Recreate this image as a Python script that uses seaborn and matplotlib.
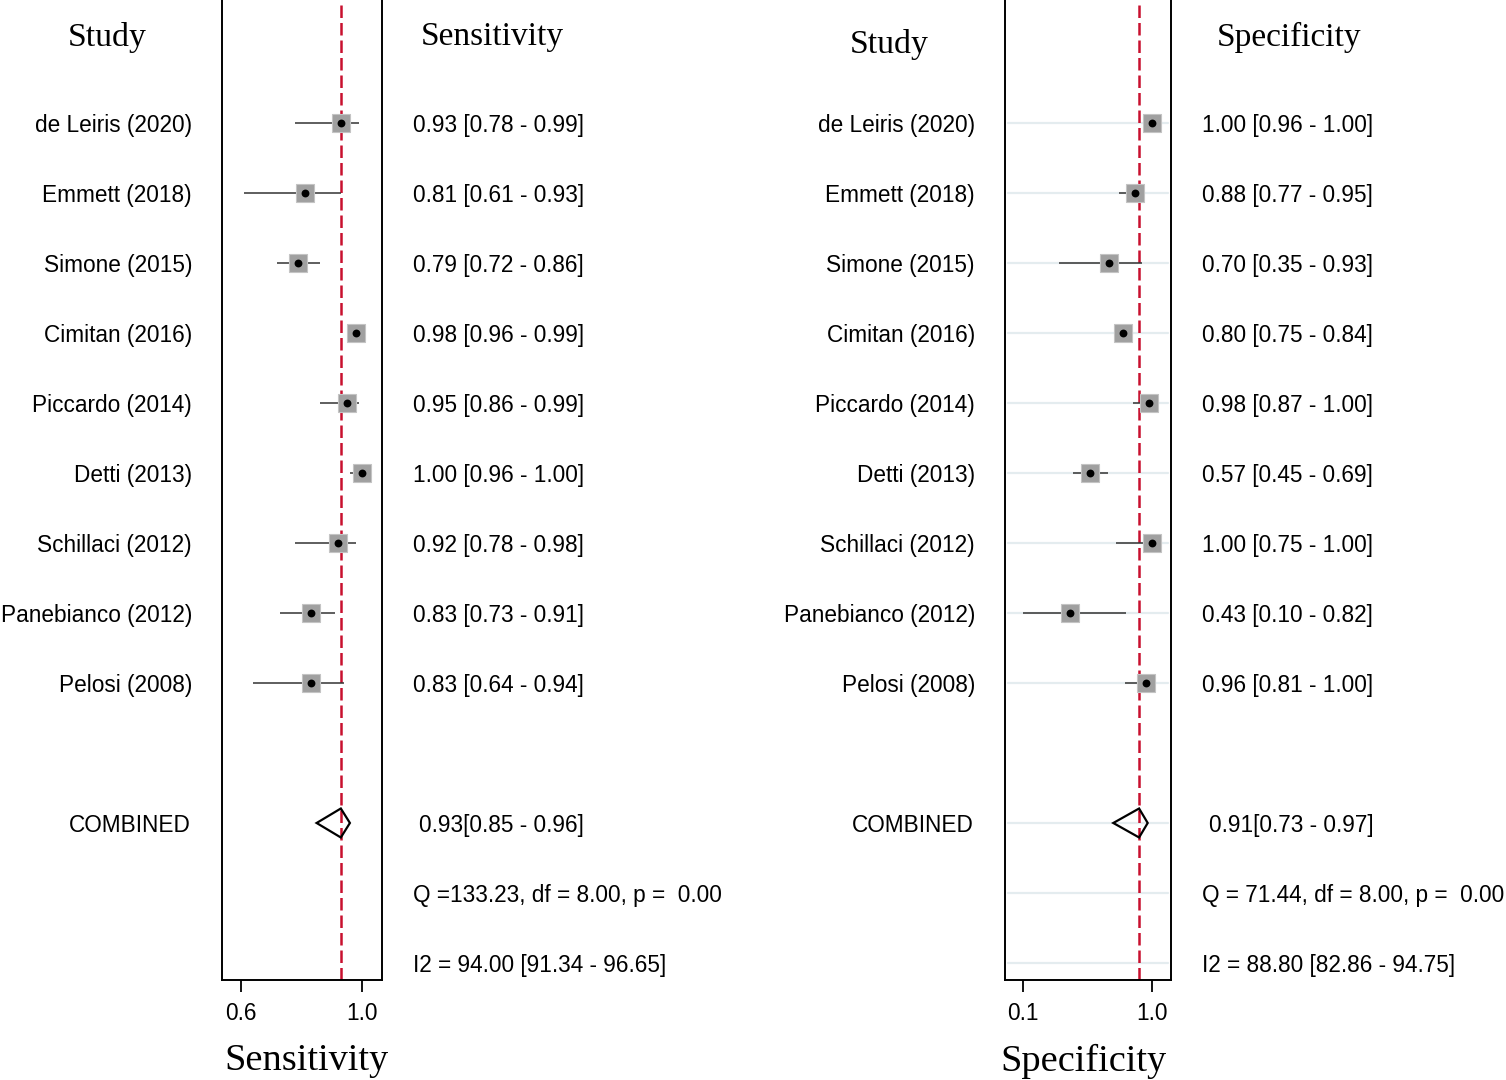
import numpy as np
import pandas as pd
import matplotlib
matplotlib.use("Agg")
import matplotlib.pyplot as plt
import matplotlib.transforms as mtransforms
from matplotlib.patches import Polygon
import seaborn as sns

# ---------------- data ----------------
studies = ["de Leiris (2020)", "Emmett (2018)", "Simone (2015)", "Cimitan (2016)",
           "Piccardo (2014)", "Detti (2013)", "Schillaci (2012)", "Panebianco (2012)",
           "Pelosi (2008)"]
sens = [0.93, 0.81, 0.79, 0.98, 0.95, 1.00, 0.92, 0.83, 0.83]
sens_lo = [0.78, 0.61, 0.72, 0.96, 0.86, 0.96, 0.78, 0.73, 0.64]
sens_hi = [0.99, 0.93, 0.86, 0.99, 0.99, 1.00, 0.98, 0.91, 0.94]
spec = [1.00, 0.88, 0.70, 0.80, 0.98, 0.57, 1.00, 0.43, 0.96]
spec_lo = [0.96, 0.77, 0.35, 0.75, 0.87, 0.45, 0.75, 0.10, 0.81]
spec_hi = [1.00, 0.95, 0.93, 0.84, 1.00, 0.69, 1.00, 0.82, 1.00]
sens_comb = [0.93, 0.85, 0.96]
spec_comb = [0.91, 0.73, 0.97]
sens_q = "Q =133.23, df = 8.00, p =  0.00"
sens_i2 = "I2 = 94.00 [91.34 - 96.65]"
spec_q = "Q = 71.44, df = 8.00, p =  0.00"
spec_i2 = "I2 = 88.80 [82.86 - 94.75]"
sens_ticks = [0.6, 1.0]
sens_ticklabels = ["0.6", "1.0"]
spec_ticks = [0.1, 1.0]
spec_ticklabels = ["0.1", "1.0"]

# ---------------- style ----------------
sns.set_style("white")
SANS = ["Liberation Sans", "DejaVu Sans"]
SERIF = ["Liberation Serif", "DejaVu Serif"]
plt.rcParams["font.family"] = SANS
plt.rcParams["text.color"] = "black"
plt.rcParams["xtick.color"] = "black"
plt.rcParams["xtick.labelcolor"] = "black"

W, H = 1506, 1080
fig = plt.figure(figsize=(W / 100, H / 100), dpi=100)

ROWS = list(range(1, 10))
ROW_COMB, ROW_Q, ROW_I2 = 11, 12, 13
YLIM = (13.243, -0.757)
RED = "#C8102E"
FS = 16.3
TOFF = 0.03  # small vertical text offset (rows)


def fx(px):
    return px / W


def panel(rect, est, lo, hi, comb, q, i2, xlim, ticks, ticklabels,
          label_x, value_x, comb_x, header_study_y, header_val, header_val_x,
          study_x, xlabel, xlabel_x, grid):
    ax = fig.add_axes(rect)
    df = pd.DataFrame({"study": studies, "est": est, "lo": lo, "hi": hi, "row": ROWS})

    if grid:
        for r in ROWS + [ROW_COMB, ROW_Q, ROW_I2]:
            ax.axhline(r, xmin=0.02, xmax=0.98, color="#E4ECEF", lw=1.6, zorder=0)

    ax.axvline(comb[0], color=RED, lw=1.8, dashes=(5, 2), zorder=1)
    ax.hlines(df["row"], df["lo"], df["hi"], color="#333333", lw=1.1, zorder=2)
    sns.scatterplot(data=df, x="est", y="row", marker="s", s=155, color="#A0A0A0",
                    edgecolor="#C4C4C4", linewidth=0.8, ax=ax, zorder=3, legend=False)
    sns.scatterplot(data=df, x="est", y="row", marker="o", s=32, color="black",
                    edgecolor="black", linewidth=0, ax=ax, zorder=4, legend=False)

    h = 0.207
    diamond = Polygon([(comb[1], ROW_COMB), (comb[0], ROW_COMB - h),
                       (comb[2], ROW_COMB), (comb[0], ROW_COMB + h)],
                      closed=True, fill=False, edgecolor="black", lw=1.6, zorder=5)
    ax.add_patch(diamond)

    ax.set_xlim(*xlim)
    ax.set_ylim(*YLIM)
    ax.set_xticks(ticks)
    ax.set_xticklabels(ticklabels, fontsize=FS, color="black")
    ax.set_yticks([])
    ax.set_xlabel("")
    ax.set_ylabel("")
    ax.tick_params(axis="x", direction="out", length=8.5, width=1.3, pad=7.5,
                   colors="black", bottom=True)
    for s in ["left", "right", "bottom"]:
        ax.spines[s].set_visible(True)
        ax.spines[s].set_color("black")
        ax.spines[s].set_linewidth(1.4)
    ax.spines["top"].set_visible(False)

    tr = mtransforms.blended_transform_factory(fig.transFigure, ax.transData)
    for _, r in df.iterrows():
        ax.text(fx(label_x), r["row"] + TOFF, r["study"], transform=tr, ha="right",
                va="center", fontsize=FS, color="black", clip_on=False)
        ax.text(fx(value_x), r["row"] + TOFF,
                f"{r['est']:.2f} [{r['lo']:.2f} - {r['hi']:.2f}]",
                transform=tr, ha="left", va="center", fontsize=FS, color="black",
                clip_on=False)
    ax.text(fx(label_x - 1), ROW_COMB + TOFF, "COMBINED", transform=tr, ha="right",
            va="center", fontsize=FS, color="black", clip_on=False)
    ax.text(fx(comb_x), ROW_COMB + TOFF, f"{comb[0]:.2f}[{comb[1]:.2f} - {comb[2]:.2f}]",
            transform=tr, ha="left", va="center", fontsize=FS, color="black",
            clip_on=False)
    ax.text(fx(value_x), ROW_Q + TOFF, q, transform=tr, ha="left", va="center",
            fontsize=FS, color="black", clip_on=False)
    ax.text(fx(value_x), ROW_I2 + TOFF, i2, transform=tr, ha="left", va="center",
            fontsize=FS, color="black", clip_on=False)

    ax.text(fx(study_x), header_study_y + TOFF, "Study", transform=tr, ha="center",
            va="center", fontsize=24.3, family=SERIF, color="black", clip_on=False)
    ax.text(fx(header_val_x), -0.257 + TOFF, header_val, transform=tr, ha="center",
            va="center", fontsize=24.0, family=SERIF, color="black", clip_on=False)

    fig.text(fx(xlabel_x), 1 - 1061 / H, xlabel, ha="center", va="center",
             fontsize=27.6, family=SERIF, color="black")
    return ax


panel([222 / W, 100 / H, 160 / W, 980 / H], sens, sens_lo, sens_hi, sens_comb,
      sens_q, sens_i2, (0.5372, 1.0661), sens_ticks, sens_ticklabels,
      label_x=192, value_x=413, comb_x=419, header_study_y=-0.257,
      header_val="Sensitivity", header_val_x=492, study_x=107,
      xlabel="Sensitivity", xlabel_x=306, grid=False)

panel([1005 / W, 100 / H, 166 / W, 980 / H], spec, spec_lo, spec_hi, spec_comb,
      spec_q, spec_i2, (-0.0256, 1.1326), spec_ticks, spec_ticklabels,
      label_x=975, value_x=1202, comb_x=1209, header_study_y=-0.157,
      header_val="Specificity", header_val_x=1289, study_x=889,
      xlabel="Specificity", xlabel_x=1083, grid=True)

fig.savefig("out.png", dpi=100, facecolor="white")
